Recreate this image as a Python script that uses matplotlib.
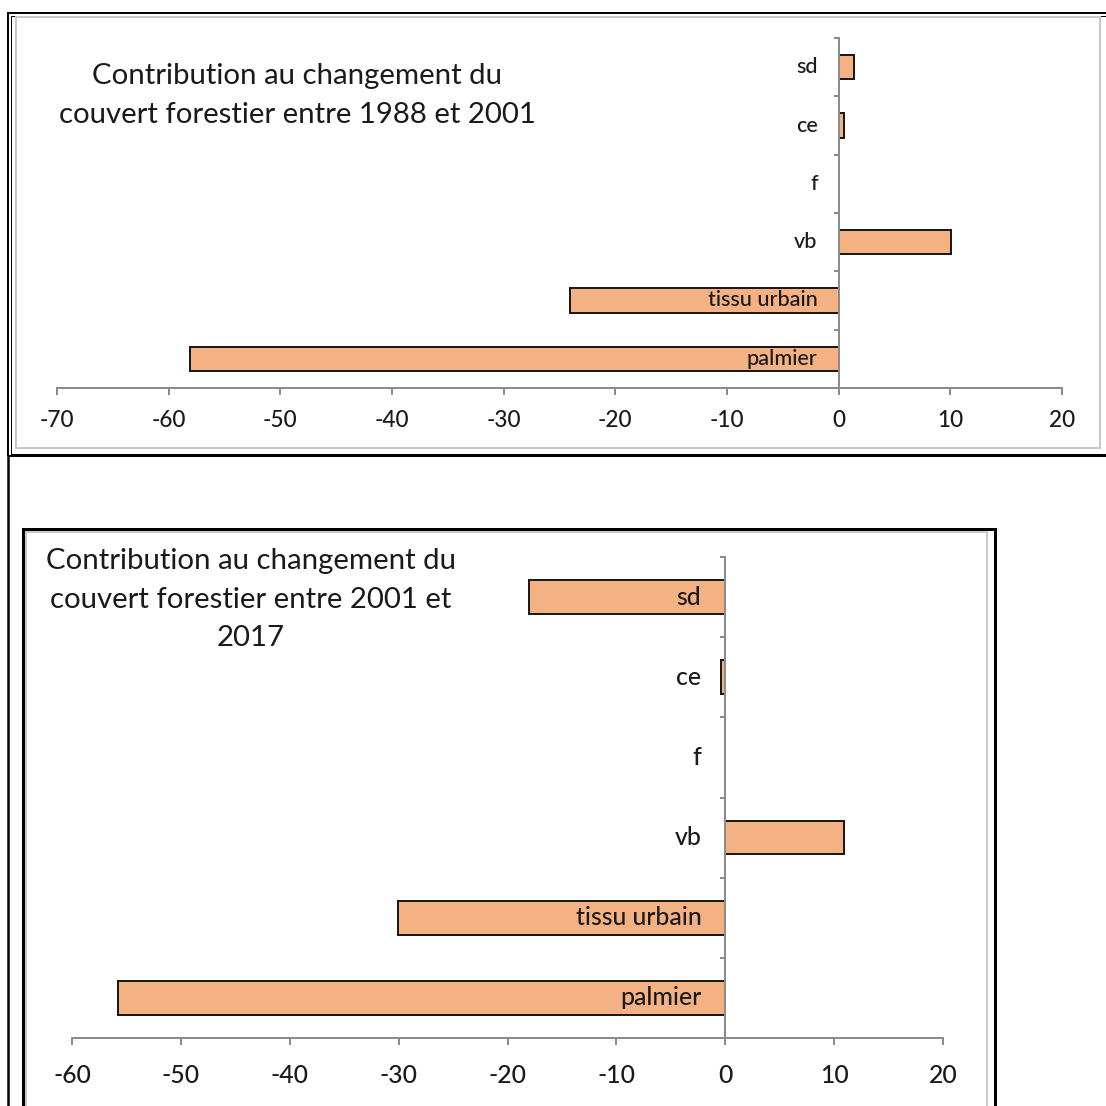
import matplotlib.pyplot as plt
from matplotlib.patches import Rectangle

# data
categories = ["palmier", "tissu urbain", "vb", "f", "ce", "sd"]
values_1988_2001 = [-58.1, -24.1, 10.1, 0.0, 0.45, 1.4]
values_2001_2017 = [-55.8, -30.1, 10.9, 0.0, -0.35, -18.0]
xticks_1988_2001 = [-70, -60, -50, -40, -30, -20, -10, 0, 10, 20]
xticks_2001_2017 = [-60, -50, -40, -30, -20, -10, 0, 10, 20]
title_1988_2001 = ["Contribution au changement du",
                   "couvert forestier entre 1988 et 2001"]
title_2001_2017 = ["Contribution au changement du",
                   "couvert forestier entre 2001 et",
                   "2017"]

W = H = 1106
BAR_COLOR = "#F4B183"
BAR_EDGE = "#1a1a1a"
AXIS_GRAY = "#8c8c8c"
FRAME_GRAY = "#c8c8c8"
TEXT = "#1a1a1a"

plt.rcParams["font.family"] = ["Lato", "DejaVu Sans"]
plt.rcParams["axes.unicode_minus"] = False

fig = plt.figure(figsize=(W / 100, H / 100), dpi=100)


def px(v):
    # pixels -> points
    return v * 72 / 100


def box(left, top, right, bottom):
    return [left / W, 1 - bottom / H, (right - left) / W, (bottom - top) / H]


def frame(left, top, right, bottom, color, lw):
    fig.add_artist(Rectangle(
        (left / W, 1 - bottom / H), (right - left) / W, (bottom - top) / H,
        transform=fig.transFigure, fill=False, edgecolor=color,
        linewidth=px(lw), clip_on=False,
    ))


def draw_chart(area, values, xticks, label_offset, tick_pad, tick_size,
               label_size, title_lines, title_x, title_y, line_gap):
    ax = fig.add_axes(box(*area))
    ax.patch.set_alpha(0)
    ypos = list(range(len(categories)))

    ax.barh(ypos, values, height=0.42, color=BAR_COLOR,
            edgecolor=BAR_EDGE, linewidth=px(2))

    ax.set_xlim(xticks[0], xticks[-1])
    ax.set_ylim(-0.5, len(categories) - 0.5)

    ax.spines["top"].set_visible(False)
    ax.spines["right"].set_visible(False)
    ax.spines["left"].set_position(("data", 0))
    for side in ("left", "bottom"):
        ax.spines[side].set_color(AXIS_GRAY)
        ax.spines[side].set_linewidth(px(2))

    ax.set_yticks([i - 0.5 for i in range(len(categories) + 1)])
    ax.set_yticklabels([])
    ax.tick_params(axis="y", direction="out", length=px(5),
                   width=px(2), color=AXIS_GRAY)

    ax.set_xticks(xticks)
    ax.set_xticklabels([str(t) for t in xticks], fontweight=500)
    ax.tick_params(axis="x", direction="out", length=px(7), width=px(2),
                   color=AXIS_GRAY, labelsize=tick_size, labelcolor=TEXT,
                   pad=tick_pad)

    for y, name in zip(ypos, categories):
        ax.annotate(name, xy=(0, y), xytext=(-label_offset, 0),
                    textcoords="offset points", ha="right", va="center",
                    fontsize=label_size, fontweight=500, color=TEXT)

    for i, line in enumerate(title_lines):
        fig.text(title_x / W, 1 - (title_y + i * line_gap) / H, line,
                 ha="center", va="center", fontsize=21.2, color=TEXT)
    return ax


# top chart: frame, then plot
frame(8, 13, 1130, 456, "black", 2)
frame(11, 15.5, 1130, 453.5, "black", 1)
frame(16, 17, 1100, 448, FRAME_GRAY, 2)
draw_chart((57, 38, 1062, 388), values_1988_2001, xticks_1988_2001,
           px(21), 10.5, 16.3, 15.6, title_1988_2001, 297, 76, 39)

# left border running down the page
fig.add_artist(plt.Line2D([8 / W, 8 / W], [1 - 456 / H, 0],
                          transform=fig.transFigure, color="black",
                          linewidth=px(2.5)))

# bottom chart
frame(23, 529, 995, 1130, "black", 3)
frame(26, 532, 987, 1130, FRAME_GRAY, 2)
draw_chart((72, 557, 943, 1038), values_2001_2017, xticks_2001_2017,
           px(24), 13.5, 17.8, 17.8, title_2001_2017, 251, 561, 38.5)

fig.savefig("out.png", dpi=100)
